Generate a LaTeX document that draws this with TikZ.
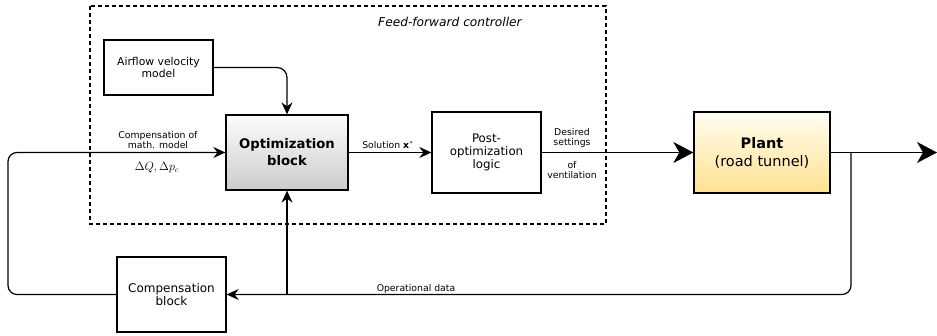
\documentclass[tikz,border=0pt]{standalone}
\usepackage{fontspec}
\setmainfont{DejaVu Sans}
\usetikzlibrary{arrows.meta}
\definecolor{optTop}{RGB}{252,252,252}
\definecolor{optBot}{RGB}{204,204,204}
\definecolor{plTop}{RGB}{255,253,240}
\definecolor{plBot}{RGB}{255,226,145}
\tikzset{
  box/.style={draw=black, line width=1.3pt, align=center, inner sep=2pt},
  ln/.style={draw=black, line width=1.2pt},
  arr/.style={ln, -{Stealth[length=12pt,width=11pt,inset=4pt]}},
  bigarr/.style={ln, -{Stealth[length=20pt,width=21pt,inset=6pt]}},
  lbl/.style={font=\fontsize{9.3}{10}\selectfont, align=center, inner sep=0pt},
}
\begin{document}
\begin{tikzpicture}[x=1pt,y=-1pt]
\useasboundingbox (0,0) rectangle (937,336);
% dashed controller frame
\draw[line width=1.3pt, dash pattern=on 4pt off 3pt] (90,6) rectangle (606,224);
\node[font=\fontsize{12.2}{14}\selectfont\itshape, inner sep=0pt] (ffc) at (450,22) {Feed-forward controller};
% boxes
\node[box, minimum width=109pt, minimum height=55pt, font=\fontsize{10.8}{12}\selectfont] (air) at (158.5,67.5) {Airflow velocity\\model};
\node[box, minimum width=122pt, minimum height=75pt, top color=optTop, bottom color=optBot, font=\fontsize{13.2}{17}\selectfont\bfseries] (opt) at (287,152.5) {Optimization\\block};
\node[box, minimum width=109pt, minimum height=81pt, font=\fontsize{11.8}{13}\selectfont] (post) at (486.5,152.5) {Post-\\optimization\\logic};
\node[box, minimum width=136pt, minimum height=81pt, top color=plTop, bottom color=plBot, font=\fontsize{14.5}{18}\selectfont] (plant) at (762,152.5) {\textbf{Plant}\\(road tunnel)};
\node[box, minimum width=109pt, minimum height=75pt, font=\fontsize{12}{13}\selectfont] (comp) at (171.5,294.5) {Compensation\\block};
% coordinates
\coordinate (out) at (937,152.5);
\coordinate (br) at (851,152.5);
\coordinate (lc) at (8,152.5);
\coordinate (j) at (opt.south |- comp.east);
% connectors
\draw[arr, rounded corners=10pt] (air.east) -| (opt.north);
\draw[arr] (opt.east) -- (post.west);
\draw[bigarr] (post.east) -- (plant.west);
\draw[bigarr] (plant.east) -- (out);
\draw[arr, rounded corners=9pt] (br) |- (comp.east);
\draw[arr] (j) -- (opt.south);
\draw[arr, rounded corners=9pt] (comp.west) -| (lc) -- (opt.west);
% labels
\node[lbl] (l1) at (388,145) {Solution \textbf{x}$^{*}$};
\node[lbl] (l2) at (572,138) {Desired\\settings};
\node[lbl] (l3) at (572,170) {of\\ventilation};
\node[lbl] (l4) at (158,140) {Compensation of\\math. model};
\node[inner sep=0pt, font=\fontsize{11.5}{12}\selectfont] (l5) at (157,168) {$\Delta Q, \Delta p_c$};
\node[lbl] (l6) at (416,289) {Operational data};
\end{tikzpicture}
\end{document}
